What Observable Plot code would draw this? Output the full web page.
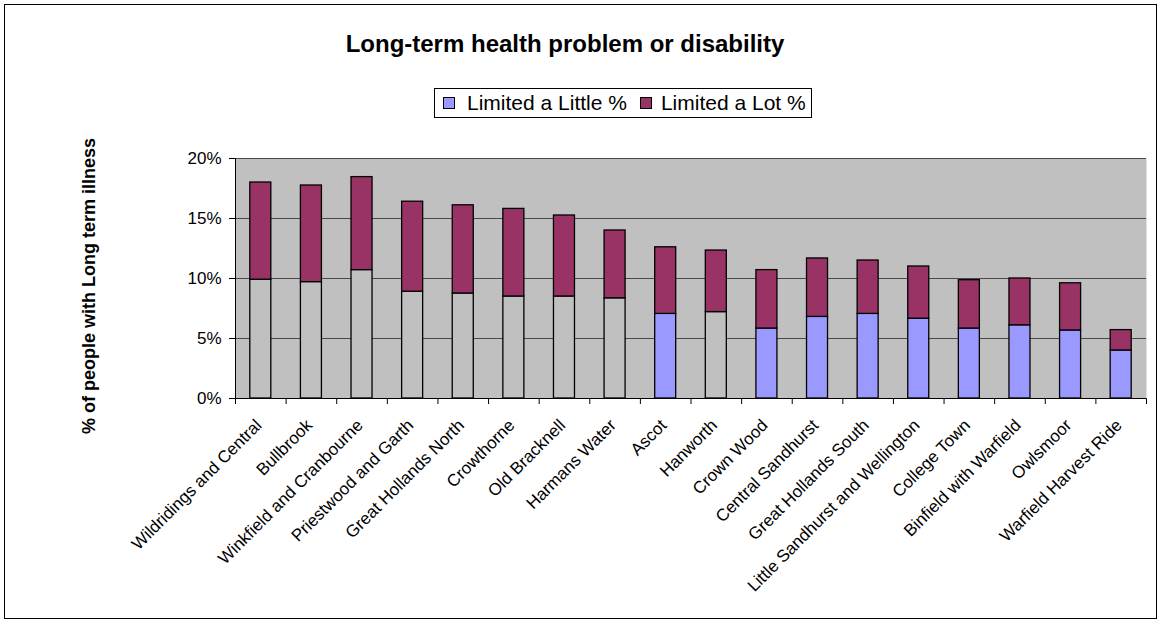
<!DOCTYPE html>
<html>
<head>
<meta charset="utf-8">
<script src="https://cdn.jsdelivr.net/npm/d3@7"></script>
<script src="https://cdn.jsdelivr.net/npm/@observablehq/plot@0.6"></script>
<style>
  html, body { margin: 0; padding: 0; background: #fff; }
  body { font-family: "Liberation Sans", Arial, sans-serif; }
  #chart { position: relative; width: 1162px; height: 624px; overflow: hidden; }
  #border { position: absolute; left: 4px; top: 4px; width: 1153px; height: 615px; border: 1px solid #000; box-sizing: border-box; pointer-events: none; }
  #title { position: absolute; left: 565px; top: 32px; transform: translateX(-50%); font-size: 24px; line-height: 24px; font-weight: bold; white-space: nowrap; }
  #legend { position: absolute; left: 434px; top: 88px; height: 30px; box-sizing: border-box; border: 1px solid #000; background: #fff; display: flex; align-items: center; padding: 0 5px 0 8px; font-size: 21px; white-space: nowrap; }
  .sw { width: 12px; height: 12px; box-sizing: border-box; border: 1px solid #000; display: inline-block; }
  #ytitle { position: absolute; left: 89px; top: 286px; transform: translate(-50%, -50%) rotate(-90deg); font-size: 18px; font-weight: bold; white-space: nowrap; }
  #plot { position: absolute; left: 0; top: 0; }
</style>
</head>
<body>
<div id="chart">
  <div id="plot"></div>
  <div id="title"></div>
  <div id="legend"></div>
  <div id="ytitle"></div>
  <div id="border"></div>
</div>
<script>
// ---- Data ----
const titleText = "Long-term health problem or disability";
const yTitle = "% of people with Long term illness";
const categories = [
  "Wildridings and Central", "Bullbrook", "Winkfield and Cranbourne", "Priestwood and Garth",
  "Great Hollands North", "Crowthorne", "Old Bracknell", "Harmans Water", "Ascot", "Hanworth",
  "Crown Wood", "Central Sandhurst", "Great Hollands South", "Little Sandhurst and Wellington",
  "College Town", "Binfield with Warfield", "Owlsmoor", "Warfield Harvest Ride"
];
const seriesNames = ["Limited a Little %", "Limited a Lot %"];
const limitedLittle = [9.9, 9.7, 10.7, 8.9, 8.75, 8.5, 8.5, 8.35, 7.05, 7.2, 5.83, 6.8, 7.05, 6.65, 5.83, 6.1, 5.67, 4.0];
const limitedLot    = [8.1, 8.05, 7.75, 7.5, 7.35, 7.3, 6.75, 5.65, 5.55, 5.13, 4.87, 4.87, 4.45, 4.35, 4.03, 3.9, 3.93, 1.7];
// categories whose "Limited a Little" segment is drawn without the series colour
const unfilledLittle = [
  "Wildridings and Central", "Bullbrook", "Winkfield and Cranbourne", "Priestwood and Garth",
  "Great Hollands North", "Crowthorne", "Old Bracknell", "Harmans Water", "Hanworth"
];
const yTicks = [0, 5, 10, 15, 20];

// ---- Styles ----
const colLittle = "#9999FF";
const colLot = "#993366";
const plotBg = "#C0C0C0";

// ---- Build table ----
const rows = [];
categories.forEach((c, i) => {
  rows.push({cat: c, i, series: seriesNames[0], y1: 0, y2: limitedLittle[i],
             fill: unfilledLittle.includes(c) ? plotBg : colLittle});
  rows.push({cat: c, i, series: seriesNames[1], y1: limitedLittle[i], y2: limitedLittle[i] + limitedLot[i],
             fill: colLot});
});

const n = categories.length;
const font = "'Liberation Sans', Arial, sans-serif";

const chart = Plot.plot({
  width: 1162,
  height: 624,
  marginLeft: 235,
  marginRight: 16,
  marginTop: 158,
  marginBottom: 226,
  style: {fontFamily: font, fontSize: "17px", color: "#000", background: "transparent"},
  x: {domain: [0, n], ticks: d3.range(n + 1), tickFormat: () => "", tickSize: 6, label: null},
  y: {domain: [0, 20], ticks: yTicks, tickFormat: d => d + "%", tickSize: 6, tickPadding: 8, label: null},
  color: {type: "identity"},
  marks: [
    Plot.frame({fill: plotBg, stroke: null}),
    Plot.ruleY(yTicks.filter(d => d > 0), {stroke: "#4a4a4a", strokeWidth: 1}),
    Plot.rectY(rows, {x1: "i", x2: d => d.i + 1, y1: "y1", y2: "y2", fill: "fill",
                      stroke: "#000", strokeWidth: 1.3, insetLeft: 14.8, insetRight: 14.8}),
    Plot.ruleY([0], {stroke: "#000", strokeWidth: 1}),
    Plot.ruleX([0], {stroke: "#000", strokeWidth: 1}),
    Plot.text(categories, {x: (d, i) => i + 0.5, y: () => 0, text: d => d, rotate: -45,
                           textAnchor: "end", dx: -2, dy: 24, fontSize: 17, fill: "#000"})
  ]
});
document.getElementById("plot").appendChild(chart);

document.getElementById("title").textContent = titleText;
document.getElementById("ytitle").textContent = yTitle;

const legend = document.getElementById("legend");
[[seriesNames[0], colLittle], [seriesNames[1], colLot]].forEach(([name, col], k) => {
  const sw = document.createElement("span");
  sw.className = "sw";
  sw.style.background = col;
  sw.style.marginRight = k === 0 ? "12px" : "9px";
  if (k === 1) sw.style.marginLeft = "13px";
  const t = document.createElement("span");
  t.textContent = name;
  legend.appendChild(sw);
  legend.appendChild(t);
});
</script>
</body>
</html>
